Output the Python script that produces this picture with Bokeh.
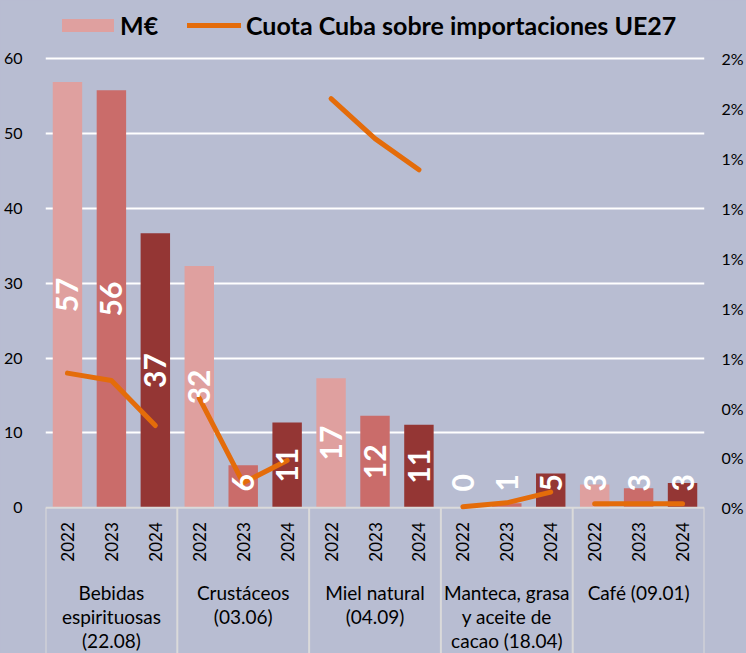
import math
from bokeh.plotting import figure
from bokeh.models import (Range1d, LinearAxis, FixedTicker, CustomJSTickFormatter,
                          Grid, Legend, LegendItem)
from bokeh.core.properties import value
from bokeh.embed import file_html
from bokeh.resources import INLINE

# ---------------- data ----------------
categories = ["Bebidas\nespirituosas\n(22.08)", "Crustáceos\n(03.06)", "Miel natural\n(04.09)",
              "Manteca, grasa\ny aceite de\ncacao (18.04)", "Café (09.01)"]
years = ["2022", "2023", "2024"]
meur_2022 = [56.9, 32.3, 17.3, 0.1, 3.1]
meur_2023 = [55.8, 5.7, 12.3, 0.6, 2.6]
meur_2024 = [36.7, 11.4, 11.1, 4.6, 3.3]
cuota_2022 = [0.54, 0.44, 1.64, 0.004, 0.016]   # % share of EU27 imports
cuota_2023 = [0.51, 0.10, 1.48, 0.02, 0.016]
cuota_2024 = [0.33, 0.19, 1.355, 0.063, 0.016]
left_ticks = [0, 10, 20, 30, 40, 50, 60]
right_ticks = [0, 0.2, 0.4, 0.6, 0.8, 1.0, 1.2, 1.4, 1.6, 1.8]
series_name = "M€"
line_name = "Cuota Cuba sobre importaciones UE27"

# ---------------- style ----------------
BG = "#B8BDD2"
BAR_COLORS = ["#DFA09F", "#CA6C6A", "#943634"]
ORANGE = "#E46C0A"
SEP = "#DADADA"
FONT = "Lato"

W, H = 746, 653
PX = 449.0 / 60.0            # pixels per M€ unit
TOP_PAD = 58.3               # px from figure top to the 60 line
ZERO_Y = 507.3               # px from figure top to the 0 line
y_end = left_ticks[-1] + TOP_PAD / PX
y_start = -(H - ZERO_Y) / PX
ratio = right_ticks[-1] / left_ticks[-1]

n_cat = len(categories)
n_year = len(years)

p = figure(width=W, height=H, x_range=Range1d(0, n_cat * n_year),
           y_range=Range1d(y_start, y_end), x_axis_type=None, y_axis_type=None,
           toolbar_location=None, output_backend="svg",
           min_border_left=44, min_border_right=42,
           min_border_top=0, min_border_bottom=0,
           background_fill_color=BG, border_fill_color=BG, outline_line_color=None)
p.styles = {"background-color": BG}
p.extra_y_ranges = {"pct": Range1d(y_start * ratio, y_end * ratio)}

# axes
yl = LinearAxis(ticker=FixedTicker(ticks=left_ticks), axis_line_color=None,
                major_tick_line_color=None, minor_tick_line_color=None,
                major_label_standoff=17, major_label_text_font=FONT,
                major_label_text_font_size="16px", major_label_text_color="black")
p.add_layout(yl, "left")
yr = LinearAxis(y_range_name="pct", ticker=FixedTicker(ticks=right_ticks),
                formatter=CustomJSTickFormatter(code="return Math.round(tick) + '%';"),
                axis_line_color=None, major_tick_line_color=None, minor_tick_line_color=None,
                major_label_standoff=11, major_label_text_font=FONT,
                major_label_text_font_size="16px", major_label_text_color="black")
p.add_layout(yr, "right")

p.add_layout(Grid(dimension=1, ticker=FixedTicker(ticks=left_ticks[1:]),
                  grid_line_color="white", grid_line_width=2))

# bars
series = [meur_2022, meur_2023, meur_2024]
bar_renderers = []
for k, vals in enumerate(series):
    xs = [g * n_year + k + 0.5 for g in range(n_cat)]
    r = p.vbar(x=xs, top=vals, width=0.67, fill_color=BAR_COLORS[k], line_color=None)
    bar_renderers.append(r)

# baseline and category separators
sep_x = [g * n_year for g in range(n_cat + 1)]
p.segment(x0=sep_x, y0=[0] * len(sep_x), x1=sep_x, y1=[y_start] * len(sep_x),
          line_color=SEP, line_width=2)
p.segment(x0=[0], y0=[0], x1=[n_cat * n_year], y1=[0], line_color=SEP, line_width=2)

# share line (one piece per category)
cuotas = [cuota_2022, cuota_2023, cuota_2024]
line_xs = [[g * n_year + k + 0.5 for k in range(n_year)] for g in range(n_cat)]
line_ys = [[cuotas[k][g] for k in range(n_year)] for g in range(n_cat)]
line_r = p.multi_line(xs=line_xs, ys=line_ys, y_range_name="pct", line_color=ORANGE,
                      line_width=5, line_cap="round", line_join="round")

# bar value labels
lab_x, lab_y, lab_t = [], [], []
min_center = 25 / PX
for k, vals in enumerate(series):
    for g, v in enumerate(vals):
        lab_x.append(g * n_year + k + 0.5)
        lab_y.append(max(v / 2.0, min_center))
        lab_t.append(f"{v:.0f}")
p.text(x=lab_x, y=lab_y, text=lab_t, angle=math.pi / 2, text_align="center",
       text_baseline="middle", text_color="white", text_font=value(FONT),
       text_font_style="bold", text_font_size="30px")

# year labels
yx = [g * n_year + k + 0.5 for g in range(n_cat) for k in range(n_year)]
yt = [years[k] for g in range(n_cat) for k in range(n_year)]
p.text(x=yx, y=[-14.4 / PX] * len(yx), text=yt, angle=math.pi / 2, text_align="right",
       text_baseline="middle", text_color="black", text_font=value(FONT),
       text_font_size="17px")

# category labels (one row per line)
cx, cy, ct = [], [], []
for g, c in enumerate(categories):
    for j, line in enumerate(c.split("\n")):
        cx.append(g * n_year + n_year / 2.0)
        cy.append(-(84.7 + 24.0 * j) / PX)
        ct.append(line)
p.text(x=cx, y=cy, text=ct, text_align="center", text_baseline="middle",
       text_color="black", text_font=value(FONT), text_font_size="19px")

# legend (two parts so each key has its own glyph size)
common = dict(orientation="horizontal", background_fill_alpha=0, border_line_color=None,
              label_text_font=FONT, label_text_font_style="bold",
              label_text_font_size="25px", label_text_color="black",
              glyph_height=16, label_height=16, padding=0, margin=0)
legend_bar = Legend(items=[LegendItem(label=series_name, renderers=[bar_renderers[0]])],
                    location=(10, 613), glyph_width=65, label_standoff=0, **common)
legend_line = Legend(items=[LegendItem(label=line_name, renderers=[line_r])],
                     location=(142, 613), glyph_width=54, label_standoff=5, **common)
p.add_layout(legend_bar)
p.add_layout(legend_line)

open("out.html", "w").write(file_html(p, INLINE))
